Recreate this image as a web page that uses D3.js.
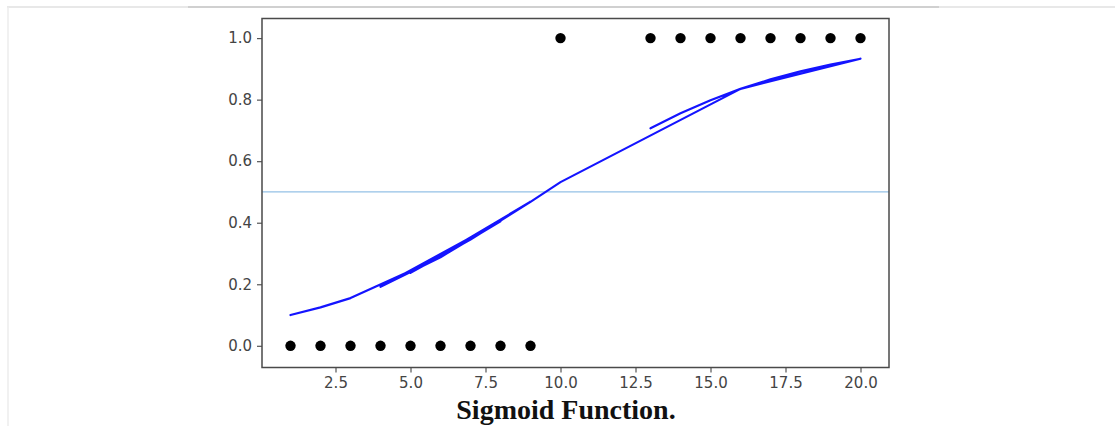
<!DOCTYPE html>
<html>
<head>
<meta charset="utf-8">
<script src="https://cdn.jsdelivr.net/npm/d3@7"></script>
<style>
  html, body { margin: 0; padding: 0; background: #fff; }
  svg { display: block; }
</style>
</head>
<body>
<svg id="chart" width="1115" height="426"></svg>
<script>
// Observed samples: hours (x) and binary outcome (y)
const pointX = [1, 2, 3, 4, 5, 6, 7, 8, 9, 10, 13, 14, 15, 16, 17, 18, 19, 20];
const pointY = [0, 0, 0, 0, 0, 0, 0, 0, 0, 1, 1, 1, 1, 1, 1, 1, 1, 1];

// Predicted probabilities, in the (unsorted) order they were plotted
const lineX = [1, 2, 3, 6, 4, 7, 5, 8, 6, 9, 7, 4, 8, 5, 9, 10, 16, 20, 19, 18, 17, 16, 15, 14, 13];
const lineY = [0.100, 0.125, 0.155, 0.288, 0.192, 0.345, 0.237, 0.405, 0.288, 0.468, 0.345, 0.192, 0.405,
               0.237, 0.468, 0.532, 0.835, 0.933, 0.914, 0.892, 0.866, 0.835, 0.798, 0.756, 0.707];

// Decision threshold
const threshold = 0.5;

// Axis ticks
const xTicks = [2.5, 5.0, 7.5, 10.0, 12.5, 15.0, 17.5, 20.0];
const yTicks = [0.0, 0.2, 0.4, 0.6, 0.8, 1.0];

const title = "Sigmoid Function.";

const svg = d3.select("#chart");

// Page rules
svg.append("line").attr("x1", 7).attr("x2", 1115).attr("y1", 7).attr("y2", 7)
  .attr("stroke", "#e0e0e0").attr("stroke-width", 1.5);
svg.append("line").attr("x1", 188).attr("x2", 939).attr("y1", 7).attr("y2", 7)
  .attr("stroke", "#c8c8c8").attr("stroke-width", 1.5);
svg.append("line").attr("x1", 8).attr("x2", 8).attr("y1", 7).attr("y2", 426)
  .attr("stroke", "#ececec").attr("stroke-width", 1.5);

const plot = { left: 262, right: 889, top: 18.5, bottom: 367.5 };

const x = d3.scaleLinear().domain([0.05, 20.95]).range([plot.left, plot.right]);
const y = d3.scaleLinear().domain([-0.0705, 1.0637]).range([plot.bottom, plot.top]);

const g = svg.append("g");

// Threshold line
g.append("line")
  .attr("x1", plot.left).attr("x2", plot.right)
  .attr("y1", y(threshold)).attr("y2", y(threshold))
  .attr("stroke", "#94c1e6").attr("stroke-width", 1.2);

// Sigmoid predictions
const lineData = lineX.map((d, i) => [d, lineY[i]]);
g.append("path")
  .datum(lineData)
  .attr("fill", "none")
  .attr("stroke", "#1414ff")
  .attr("stroke-width", 2.2)
  .attr("stroke-linejoin", "round")
  .attr("stroke-linecap", "round")
  .attr("d", d3.line().x(d => x(d[0])).y(d => y(d[1])));

// Observed points
g.selectAll("circle.pt")
  .data(pointX.map((d, i) => [d, pointY[i]]))
  .join("circle")
  .attr("class", "pt")
  .attr("cx", d => x(d[0]))
  .attr("cy", d => y(d[1]))
  .attr("r", 5.2)
  .attr("fill", "#000");

// Axes
const xAxis = d3.axisBottom(x).tickValues(xTicks).tickFormat(d3.format(".1f")).tickSize(5).tickPadding(5);
const yAxis = d3.axisLeft(y).tickValues(yTicks).tickFormat(d3.format(".1f")).tickSize(5).tickPadding(5);

const gx = svg.append("g").attr("transform", `translate(0,${plot.bottom})`).call(xAxis);
const gy = svg.append("g").attr("transform", `translate(${plot.left},0)`).call(yAxis);

[gx, gy].forEach(a => {
  a.select(".domain").remove();
  a.selectAll(".tick line").attr("stroke", "#555").attr("stroke-width", 1.2);
  a.selectAll(".tick text")
    .attr("fill", "#444")
    .style("font-family", "'DejaVu Sans', sans-serif")
    .style("font-size", "15px");
});

// Frame
svg.append("rect")
  .attr("x", plot.left).attr("y", plot.top)
  .attr("width", plot.right - plot.left).attr("height", plot.bottom - plot.top)
  .attr("fill", "none").attr("stroke", "#4a4a4a").attr("stroke-width", 1.5);

// Caption
svg.append("text")
  .attr("x", 566).attr("y", 419)
  .attr("text-anchor", "middle")
  .style("font-family", "'Liberation Serif', 'Times New Roman', serif")
  .style("font-weight", "bold")
  .style("font-size", "28px")
  .attr("fill", "#111")
  .text(title);
</script>
</body>
</html>
